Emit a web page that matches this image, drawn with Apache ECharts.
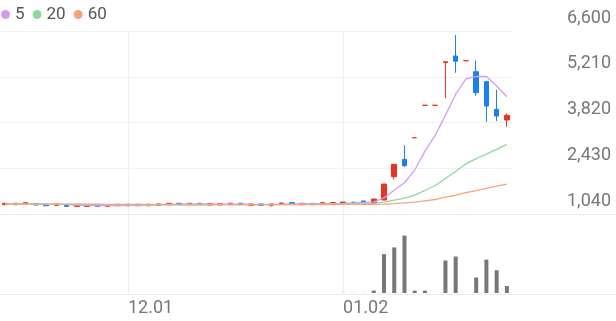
<!DOCTYPE html>
<html>
<head>
<meta charset="utf-8">
<script src="https://cdn.jsdelivr.net/npm/echarts@6/dist/echarts.min.js"></script>
<style>
html,body{margin:0;padding:0;background:#fff;}
#chart{width:616px;height:321px;}
</style>
</head>
<body>
<div id="chart"></div>
<script>
const dates = ['11.15','11.16','11.17','11.18','11.21','11.22','11.23','11.24','11.25','11.28','11.29','11.30',
  '12.01','12.02','12.05','12.06','12.07','12.08','12.09','12.12','12.13','12.14','12.15','12.16','12.19','12.20','12.21','12.22','12.23','12.26','12.27','12.28','12.29',
  '01.02','01.03','01.04','01.05','01.06','01.09','01.10','01.11','01.12','01.13','01.16','01.17','01.18','01.19','01.20','01.25','01.26'];
const tickLabels = ['12.01','01.02'];
const priceTicks = [1040, 2430, 3820, 5210, 6600];

const opens  = [1322,1366,1343,1357,1335,1301,1314,1270,1270,1314,1270,1291,1291,1291,1291,1301,1322,1366,1322,1366,1313,1313,1322,1366,1301,1345,1301,1331,1387,1322,1366,1343,1343,1361,1395,1436,1383,1465,2173,2702,3358,4343,4343,5640,5840,5698,5363,5060,4221,3896];
const closes = [1366,1322,1387,1313,1291,1345,1270,1314,1314,1270,1314,1335,1335,1335,1335,1345,1366,1322,1366,1322,1357,1357,1366,1322,1345,1301,1345,1375,1343,1366,1322,1387,1387,1405,1395,1392,1496,1951,2550,2507,3358,4343,4343,5667,5680,5698,4725,4321,4017,4039];
const lows   = [1322,1322,1343,1313,1291,1301,1270,1270,1270,1270,1270,1291,1291,1291,1291,1301,1322,1322,1322,1322,1313,1313,1322,1322,1301,1301,1262,1331,1343,1322,1322,1343,1343,1361,1395,1392,1383,1465,2094,2477,3358,4343,4343,4555,5333,5698,4634,3844,3866,3692];
const highs  = [1366,1366,1387,1357,1335,1345,1314,1314,1314,1314,1314,1335,1335,1335,1335,1345,1366,1366,1366,1366,1357,1357,1366,1366,1345,1345,1345,1375,1387,1366,1366,1387,1387,1405,1395,1436,1496,1951,2550,3127,3358,4343,4343,5667,6478,5698,5698,5081,4808,4100];

const volumes = [0,0,0,0,0,0,0,0,0,0,0,0,0,0,0,0,0,0,0,0,0,0,0,0,0,0,0,0,0,0,0,0,0,
  0.05,0.05,0.05,0.8,12.8,15.0,18.9,0.8,0.8,0,10.7,12.0,0,5.1,11.0,7.5,2.3];

const ma5  = [1340,1342,1345,1343,1338,1330,1322,1312,1302,1296,1292,1296,1300,1305,1309,1315,1322,1330,1337,1341,1342,1340,1340,1340,1336,1333,1330,1333,1340,1347,1352,1352,1358,1364,1376,1392,1411,1530,1762,1990,2375,2950,3430,4044,4680,5146,5223,5218,4929,4601];
const ma20 = [1332,1333,1333,1333,1332,1331,1330,1328,1327,1325,1324,1323,1322,1321,1320,1320,1320,1320,1321,1321,1322,1322,1323,1324,1325,1326,1327,1328,1330,1332,1334,1337,1340,1344,1349,1354,1362,1400,1460,1520,1615,1755,1905,2120,2330,2565,2720,2860,3005,3155];
const ma60 = [1345,1344,1343,1342,1341,1340,1339,1338,1337,1336,1335,1334,1333,1332,1331,1330,1330,1329,1329,1328,1328,1328,1327,1327,1327,1327,1327,1327,1327,1328,1328,1328,1329,1330,1331,1332,1335,1343,1358,1375,1400,1440,1480,1550,1610,1690,1750,1820,1885,1945];

const maNames = ['5','20','60'];
const maColors = ['#d49cf0','#8fd9a1','#f7a37c'];

const candleData = opens.map((o, i) => [o, closes[i], lows[i], highs[i]]);
const showTick = (idx, val) => tickLabels.indexOf(val) >= 0;
const fmt = v => String(v).replace(/\B(?=(\d{3})+(?!\d))/g, ',');

const chart = echarts.init(document.getElementById('chart'), null, {renderer: 'canvas'});
const splitLineX = {show: true, interval: showTick, alignWithLabel: true, lineStyle: {color: '#eeeeee', width: 1}};

chart.setOption({
  animation: false,
  backgroundColor: '#fff',
  textStyle: {fontFamily: 'Roboto'},
  legend: {
    data: maNames, left: 1, top: 6, padding: 0, icon: 'circle',
    itemWidth: 9, itemHeight: 9, itemGap: 8,
    textStyle: {fontSize: 17, color: '#555', fontFamily: 'Roboto'}
  },
  grid: [
    {left: 0, right: 104, top: 31, height: 183},
    {left: 0, right: 104, top: 214, height: 79},
    {left: 0, right: 0, top: 214, height: 80}
  ],
  xAxis: [
    {gridIndex: 0, type: 'category', data: dates, boundaryGap: true,
     axisLine: {show: false}, axisTick: {show: false}, axisLabel: {show: false}, splitLine: splitLineX},
    {gridIndex: 1, type: 'category', data: dates, boundaryGap: true,
     axisLine: {show: false}, axisTick: {show: false},
     axisLabel: {show: true, interval: showTick, align: 'left', margin: 6, fontSize: 18, color: '#777', fontFamily: 'Roboto'},
     splitLine: splitLineX},
    {gridIndex: 2, type: 'value', min: 0, max: 1, show: false}
  ],
  yAxis: [
    {gridIndex: 0, type: 'value', position: 'right', min: priceTicks[0], max: priceTicks[priceTicks.length-1],
     interval: priceTicks[1] - priceTicks[0],
     axisLine: {show: false}, axisTick: {show: false},
     splitLine: {show: true, lineStyle: {color: '#f0f0f0'}},
     axisLabel: {show: true, inside: false, align: 'right', verticalAlign: 'bottom', margin: 99, padding: [0,0,4,0],
       fontSize: 18, color: '#777', fontFamily: 'Roboto', formatter: fmt}},
    {gridIndex: 1, type: 'value', min: 0, max: 26, show: false},
    {gridIndex: 2, type: 'value', min: 0, max: 1, interval: 1,
     axisLine: {show: false}, axisTick: {show: false}, axisLabel: {show: false},
     splitLine: {show: true, lineStyle: {color: '#ebebeb'}}}
  ],
  series: [
    {type: 'candlestick', name: 'price', xAxisIndex: 0, yAxisIndex: 0, data: candleData, barWidth: 5,
     itemStyle: {color: '#ea3323', color0: '#1a80f0', borderColor: '#ea3323', borderColor0: '#1a80f0', borderWidth: 1}},
    ...[ma5, ma20, ma60].map((d, k) => ({
      type: 'line', name: maNames[k], xAxisIndex: 0, yAxisIndex: 0, data: d, symbol: 'none', smooth: false, z: 3,
      itemStyle: {color: maColors[k]}, lineStyle: {color: maColors[k], width: 1.3}
    })),
    {type: 'bar', name: 'volume', xAxisIndex: 1, yAxisIndex: 1, data: volumes, barWidth: 4,
     itemStyle: {color: '#777777'}}
  ]
});
</script>
</body>
</html>
